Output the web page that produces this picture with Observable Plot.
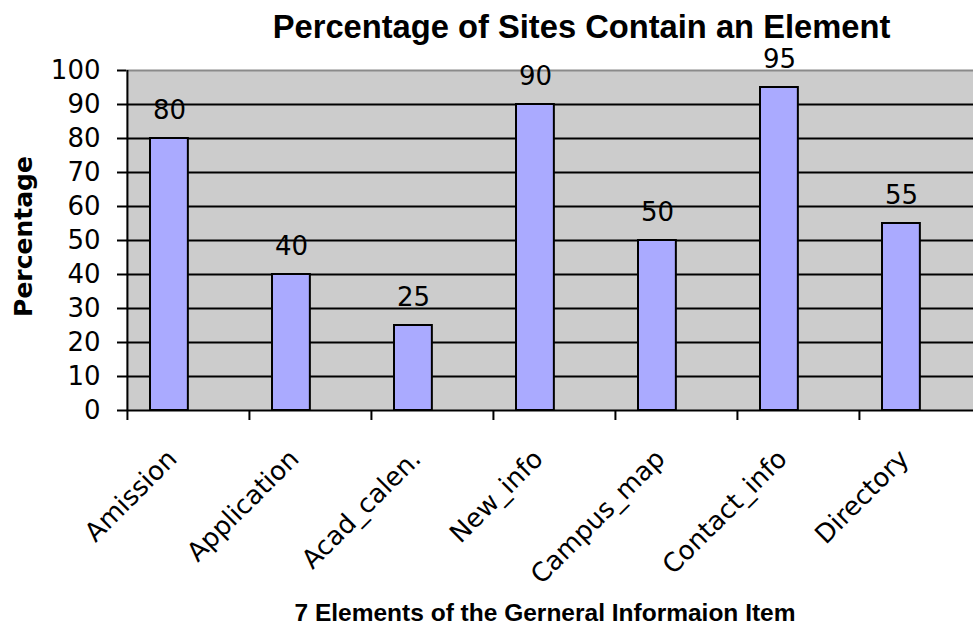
<!DOCTYPE html>
<html>
<head>
<meta charset="utf-8">
<script src="https://cdn.jsdelivr.net/npm/d3@7"></script>
<script src="https://cdn.jsdelivr.net/npm/@observablehq/plot@0.6"></script>
<style>
  html, body { margin: 0; padding: 0; background: #fff; overflow: hidden; }
  #wrap { width: 973px; height: 627px; position: relative; overflow: hidden; }
  #title {
    position: relative;
    z-index: 1;
    box-sizing: border-box;
    height: 56px;
    padding-top: 11px;
    padding-left: 190px;
    text-align: center;
    font-family: "Liberation Sans", Arial, sans-serif;
    font-weight: bold;
    font-size: 32.7px;
    line-height: 32.7px;
    color: #000;
    white-space: nowrap;
  }
  #chart svg { overflow: visible; }
</style>
</head>
<body>
<div id="wrap">
  <div id="title">Percentage of Sites Contain an Element</div>
  <div id="chart"></div>
</div>
<script>
// Seven elements of the general information item, and the share of sites that carry each
const categories = ["Amission", "Application", "Acad_calen.", "New_info", "Campus_map", "Contact_info", "Directory"];
const percentages = [80, 40, 25, 90, 50, 95, 55];
const yTicks = [0, 10, 20, 30, 40, 50, 60, 70, 80, 90, 100];
const gridLines = [10, 20, 30, 40, 50, 60, 70, 80, 90];

const data = categories.map((c, i) => ({category: c, value: percentages[i]}));

const W = 973, H = 571;
const xRange = [126, 981];
const half = (xRange[1] - xRange[0]) / categories.length / 2;

const tickFont = "DejaVu Sans, Verdana, sans-serif";

const chart = Plot.plot({
  width: W,
  height: H,
  marginLeft: 126,
  marginRight: 0,
  marginTop: 14,
  marginBottom: 217,
  style: {background: "transparent", fontFamily: tickFont, color: "#000", overflow: "visible"},
  x: {domain: categories, range: xRange, padding: 0, axis: null},
  y: {domain: [0, 100], axis: null},
  marks: [
    Plot.frame({fill: "#cccccc", stroke: null}),
    Plot.ruleY([100], {stroke: "#8a8a8a", strokeWidth: 2}),
    Plot.ruleY(gridLines, {stroke: "#000", strokeWidth: 2}),
    Plot.barY(data, {
      x: "category", y: "value",
      fill: "#aaaaff", stroke: "#000", strokeWidth: 2,
      insetLeft: 23, insetRight: half * 2 - 61
    }),
    Plot.text(data, {
      x: "category", y: "value", text: d => String(d.value),
      dx: 42 - half, dy: -28, lineAnchor: "middle",
      fontSize: 26, fill: "#000"
    }),
    // axes
    Plot.ruleY([0], {stroke: "#000", strokeWidth: 2}),
    Plot.ruleX([categories[0]], {y1: 0, y2: 100, dx: -half, stroke: "#000", strokeWidth: 2}),
    Plot.axisY({
      ticks: yTicks, tickSize: 9, tickPadding: 17, fontSize: 26,
      strokeWidth: 2, stroke: "#000", fill: "#000", label: null
    }),
    Plot.axisX({
      tickSize: 10, text: null, dx: -half, strokeWidth: 2, stroke: "#000", label: null
    }),
    Plot.text(categories, {
      x: d => d, frameAnchor: "bottom", rotate: -45, textAnchor: "end",
      lineAnchor: "middle", dx: -16, dy: 44, fontSize: 26, fill: "#000"
    }),
    // axis titles
    Plot.text(["Percentage"], {
      frameAnchor: "left", rotate: -90, dx: -103, dy: -4, textAnchor: "middle",
      fontSize: 25, fontWeight: "bold", fontFamily: "DejaVu Sans, Verdana, sans-serif",
      fill: "#000"
    }),
    Plot.text(["7 Elements of the Gerneral Informaion Item"], {
      frameAnchor: "bottom", dx: -5, dy: 203, lineAnchor: "middle",
      fontSize: 24.5, fontWeight: "bold", fontFamily: "Liberation Sans, Arial, sans-serif",
      fill: "#000"
    })
  ]
});

document.getElementById("chart").appendChild(chart);
</script>
</body>
</html>
